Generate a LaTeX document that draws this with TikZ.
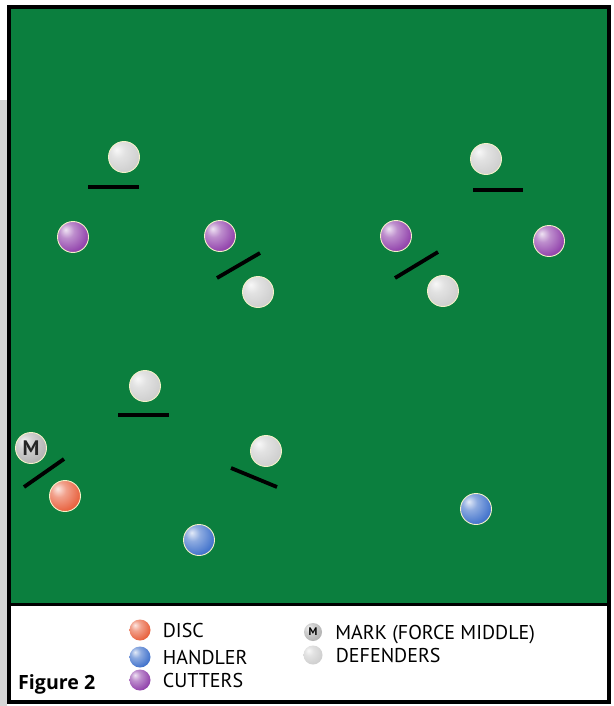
\documentclass[tikz,border=0pt]{standalone}
\usepackage{fontspec}
\setmainfont{PT Sans}
\newfontfamily\figfont{Open Sans}
\usetikzlibrary{positioning}
\definecolor{FieldGreen}{HTML}{0B7F3E}
\definecolor{DiscOrange}{HTML}{E8623F}
\definecolor{HandlerBlue}{HTML}{4273CC}
\definecolor{CutterPurple}{HTML}{9243AC}
\definecolor{DefGray}{HTML}{CFCFCF}
\definecolor{MarkGray}{HTML}{B4B4B4}
\definecolor{RimLight}{HTML}{F4F2C8}
\definecolor{ScanGray}{HTML}{D6D6D6}
\colorlet{pball}{DefGray}
\pgfdeclareradialshading[pball]{softball}{\pgfpoint{-12bp}{12bp}}{%
  color(0bp)=(pball!15!white); color(12bp)=(pball!60!white);
  color(32bp)=(pball); color(52bp)=(pball!80!black); color(80bp)=(pball!70!black)}

\tikzset{
  player/.style={circle, minimum size=31pt, inner sep=0pt, draw=RimLight, line width=0.9pt,
    /utils/exec={\colorlet{pball}{#1}}, shading=softball},
  keyball/.style={circle, minimum size=21pt, inner sep=0pt,
    /utils/exec={\colorlet{pball}{#1}}, shading=softball},
  markbar/.style={line width=3.8pt, black},
  keytext/.style={anchor=base west, yshift=-7.5pt, font=\fontsize{20}{20}\selectfont, inner sep=0pt}
}

\begin{document}
\begin{tikzpicture}[x=1pt, y=-1pt]
  \useasboundingbox (0,0) rectangle (613,706);
  \fill[ScanGray] (0,100) rectangle (7,706);
  % field and legend box
  \fill[FieldGreen] (9,7) rectangle (609,604);
  \fill[white] (9,604) rectangle (609,702);
  \draw[line width=3.5pt] (9,7) rectangle (609,702);
  \draw[line width=3pt] (9,604) -- (609,604);

  % defenders
  \node[player=DefGray] (d1) at (124,157) {};
  \node[player=DefGray] (d2) at (258,292) {};
  \node[player=DefGray] (d3) at (486,159) {};
  \node[player=DefGray] (d4) at (443,291) {};
  \node[player=DefGray] (d5) at (145,386) {};
  \node[player=DefGray] (d6) at (266,451) {};
  \node[player=MarkGray, text=black!85, font=\bfseries\fontsize{21}{21}\selectfont] (mk) at (31,448) {M};

  % cutters, handlers, disc
  \node[player=CutterPurple] (c1) at (73,237) {};
  \node[player=CutterPurple] (c2) at (220,236) {};
  \node[player=CutterPurple] (c3) at (396,236) {};
  \node[player=CutterPurple] (c4) at (549,241) {};
  \node[player=HandlerBlue] (h1) at (199,540) {};
  \node[player=HandlerBlue] (h2) at (476,509) {};
  \node[player=DiscOrange] (disc) at (65,496) {};

  % marks
  \draw[markbar] (88,187) -- (139,187);
  \draw[markbar] (217,278) -- (260,253);
  \draw[markbar] (473,190) -- (523,190);
  \draw[markbar] (395,278) -- (438,252);
  \draw[markbar] (118,415) -- (169,415);
  \draw[markbar] (231,468) -- (277,487);
  \draw[markbar] (24,487) -- (64,459);

  % legend
  \node[keyball=DiscOrange] (kdisc) at (140,630) {};
  \node[keyball=HandlerBlue] (khand) at (140,657) {};
  \node[keyball=CutterPurple] (kcut) at (140,680) {};
  \node[keyball=MarkGray, minimum size=18pt, font=\bfseries\fontsize{11}{11}\selectfont] (kmark) at (313,632) {M};
  \node[keyball=DefGray, minimum size=19pt] (kdef) at (313,655) {};
  \node[right=12pt of kdisc, keytext] (tdisc) {DISC};
  \node[right=12pt of khand, keytext] (thand) {HANDLER};
  \node[right=12pt of kcut, keytext] (tcut) {CUTTERS};
  \node[right=13pt of kmark, keytext] (tmark) {MARK (FORCE MIDDLE)};
  \node[right=13pt of kdef, keytext] (tdef) {DEFENDERS};
  \node[anchor=base west, inner sep=0pt, font=\figfont\bfseries\fontsize{19.6}{20}\selectfont] (fig) at (18,689) {Figure 2};
\end{tikzpicture}
\end{document}
